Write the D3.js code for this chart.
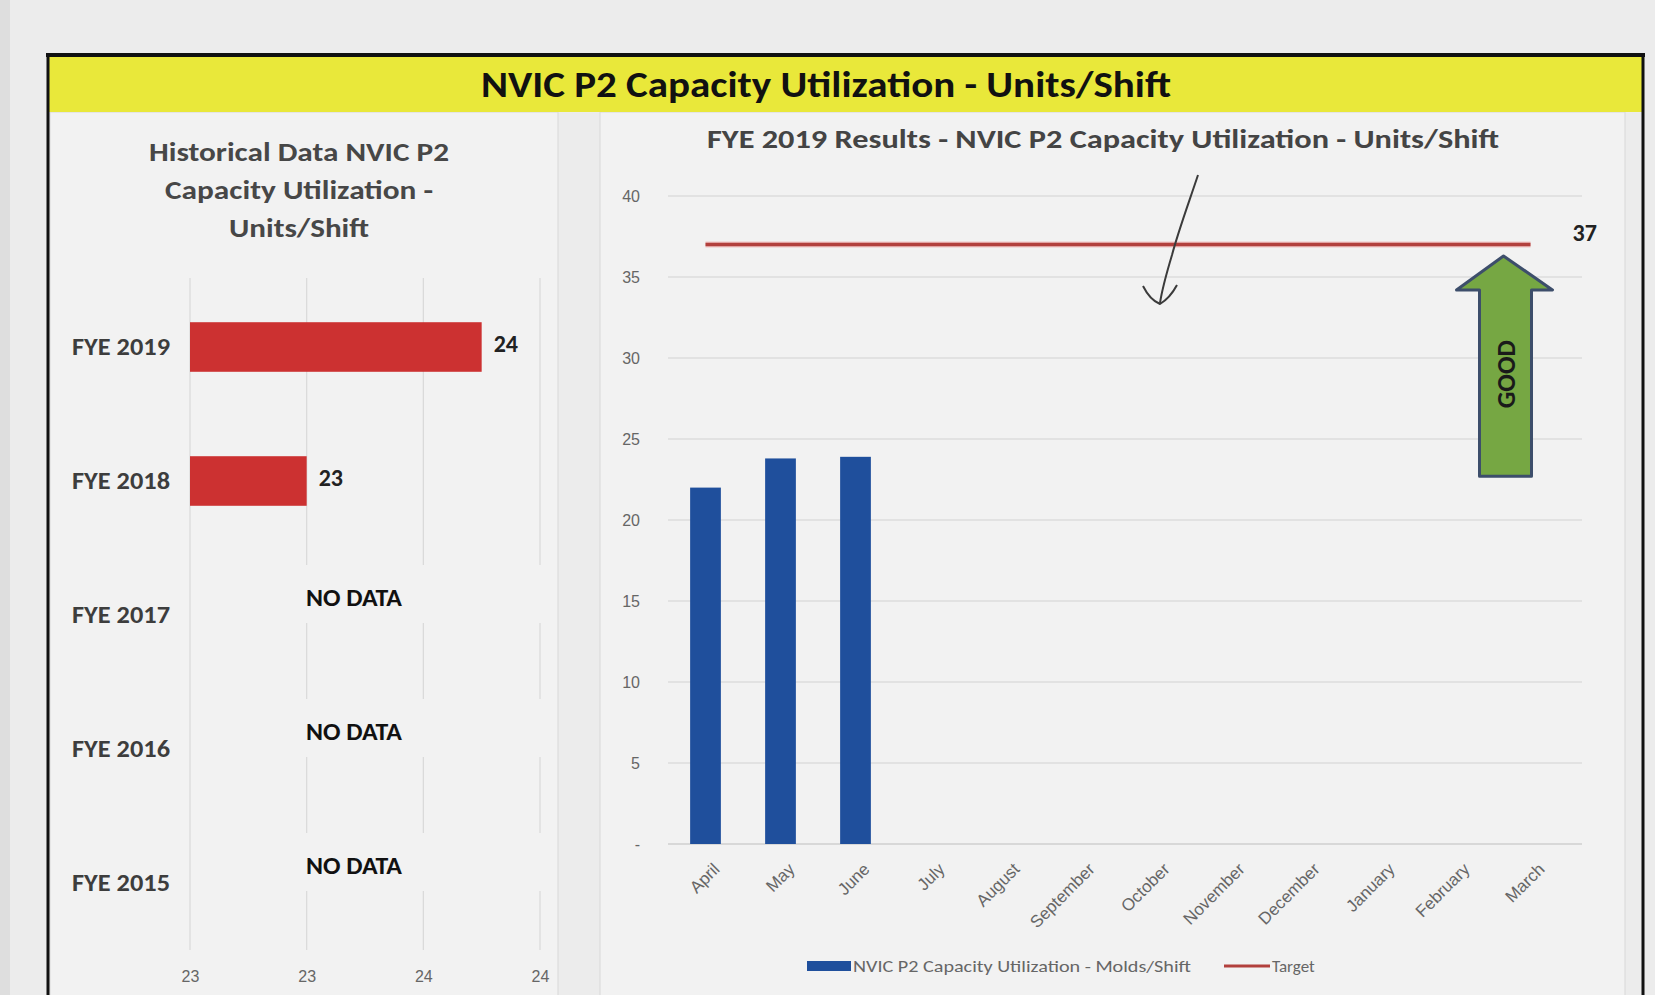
<!DOCTYPE html>
<html lang="en">
<head>
<meta charset="utf-8">
<title>NVIC P2 Capacity Utilization</title>
<script src="https://cdn.jsdelivr.net/npm/d3@7"></script>
<style>
  body { margin: 0; background: #e6e6e6; }
  svg { display: block; font-family: Carlito, Lato, "Open Sans", sans-serif; }
</style>
</head>
<body>
<script>
// historical chart (left)
var years = ["FYE 2019", "FYE 2018", "FYE 2017", "FYE 2016", "FYE 2015"];
var yearValues = [23.75, 23.0, null, null, null];
var histTicks = [22.5, 23, 23.5, 24];

// monthly chart (right)
var months = ["April", "May", "June", "July", "August", "September", "October",
              "November", "December", "January", "February", "March"];
var monthValues = [22.0, 23.8, 23.9, null, null, null, null, null, null, null, null, null];
var targetValue = 37;
var monthTicks = [0, 5, 10, 15, 20, 25, 30, 35, 40];

var W = 1655, H = 995;
var svg = d3.select("body").append("svg").attr("width", W).attr("height", H);

// paper
svg.append("rect").attr("x", 0).attr("y", 0).attr("width", W).attr("height", H).attr("fill", "#dedede");
svg.append("rect").attr("x", 10).attr("y", 0).attr("width", W - 10).attr("height", H).attr("fill", "#ececec");

// panels
svg.append("rect").attr("x", 50).attr("y", 112).attr("width", 508).attr("height", 890)
    .attr("fill", "#f2f2f2").attr("stroke", "#d8d8d8");
svg.append("rect").attr("x", 600).attr("y", 112).attr("width", 1025).attr("height", 890)
    .attr("fill", "#f2f2f2").attr("stroke", "#d8d8d8");

// yellow banner + frame
svg.append("rect").attr("x", 48).attr("y", 56).attr("width", 1595).attr("height", 56).attr("fill", "#e9e83a");
svg.append("line").attr("x1", 46).attr("x2", 1645).attr("y1", 55).attr("y2", 55)
    .attr("stroke", "#111").attr("stroke-width", 4);
svg.append("line").attr("x1", 48).attr("x2", 48).attr("y1", 54).attr("y2", H)
    .attr("stroke", "#111").attr("stroke-width", 3);
svg.append("line").attr("x1", 1643).attr("x2", 1643).attr("y1", 54).attr("y2", H)
    .attr("stroke", "#111").attr("stroke-width", 3);
svg.append("text").attr("x", 826).attr("y", 97).attr("text-anchor", "middle")
    .attr("font-size", 36).attr("font-weight", "bold").attr("fill", "#111")
    .attr("textLength", 690).attr("lengthAdjust", "spacingAndGlyphs")
    .text("NVIC P2 Capacity Utilization - Units/Shift");

// ---------- left chart ----------
var leftTitle = ["Historical Data NVIC P2", "Capacity Utilization -", "Units/Shift"];
var leftTitleW = [300, 268, 140];
svg.selectAll("text.ltitle").data(leftTitle).enter().append("text")
    .attr("class", "ltitle")
    .attr("x", 299).attr("y", function(d, i) { return 161 + i * 38; })
    .attr("text-anchor", "middle").attr("font-size", 26).attr("font-weight", "bold").attr("fill", "#474747")
    .attr("textLength", function(d, i) { return leftTitleW[i]; }).attr("lengthAdjust", "spacingAndGlyphs")
    .text(function(d) { return d; });

var hx = d3.scaleLinear().domain([22.5, 24]).range([190, 540]);
var hy = d3.scaleBand().domain(years).range([280, 950]).paddingInner(0.63).paddingOuter(0.315);

svg.append("g").selectAll("line").data(histTicks).enter().append("line")
    .attr("x1", function(d) { return hx(d); }).attr("x2", function(d) { return hx(d); })
    .attr("y1", 278).attr("y2", 950)
    .attr("stroke", "#d9d9d9").attr("stroke-width", 1.2);

// boxes behind NO DATA labels (they hide the gridlines)
var noData = years.filter(function(d, i) { return yearValues[i] === null; });
svg.append("g").selectAll("rect").data(noData).enter().append("rect")
    .attr("x", hx(22.5) + 8).attr("width", hx(24) - hx(22.5) + 4)
    .attr("y", function(d) { return hy(d) + hy.bandwidth() / 2 - 50; })
    .attr("height", 58).attr("fill", "#f2f2f2");
svg.append("g").selectAll("text").data(noData).enter().append("text")
    .attr("x", 354).attr("y", function(d) { return hy(d) + hy.bandwidth() / 2 - 17; })
    .attr("dy", "0.35em").attr("text-anchor", "middle")
    .attr("font-size", 24).attr("font-weight", "bold").attr("fill", "#111")
    .attr("textLength", 96).attr("lengthAdjust", "spacingAndGlyphs")
    .text("NO DATA");

var hdata = years.map(function(d, i) { return { year: d, value: yearValues[i] }; })
    .filter(function(d) { return d.value !== null; });
svg.append("g").selectAll("rect").data(hdata).enter().append("rect")
    .attr("x", hx(22.5)).attr("y", function(d) { return hy(d.year); })
    .attr("width", function(d) { return hx(d.value) - hx(22.5); })
    .attr("height", hy.bandwidth())
    .attr("fill", "#cc3131");
svg.append("g").selectAll("text").data(hdata).enter().append("text")
    .attr("x", function(d) { return hx(d.value) + 12; })
    .attr("y", function(d) { return hy(d.year) + hy.bandwidth() / 2 - 3; })
    .attr("dy", "0.35em").attr("font-size", 24).attr("font-weight", "bold").attr("fill", "#222")
    .text(function(d) { return Math.round(d.value); });

svg.append("g").selectAll("text").data(years).enter().append("text")
    .attr("x", 170).attr("y", function(d) { return hy(d) + hy.bandwidth() / 2; })
    .attr("dy", "0.35em").attr("text-anchor", "end")
    .attr("font-size", 24).attr("font-weight", "bold").attr("fill", "#3d3d3d")
    .attr("textLength", 98).attr("lengthAdjust", "spacingAndGlyphs")
    .text(function(d) { return d; });

var hAxis = d3.axisBottom(hx).tickValues(histTicks).tickSize(0).tickPadding(0)
    .tickFormat(function(d) { return Math.round(d); });
var hAxisG = svg.append("g").attr("transform", "translate(0,976)").call(hAxis);
hAxisG.select(".domain").remove();
hAxisG.selectAll("text").attr("font-size", 16).attr("fill", "#666").attr("font-family", null).attr("dy", "0.35em");

// ---------- right chart ----------
svg.append("text").attr("x", 1103).attr("y", 148).attr("text-anchor", "middle")
    .attr("font-size", 27).attr("font-weight", "bold").attr("fill", "#444")
    .attr("textLength", 792).attr("lengthAdjust", "spacingAndGlyphs")
    .text("FYE 2019 Results - NVIC P2 Capacity Utilization - Units/Shift");

var x = d3.scaleBand().domain(months).range([668, 1568]).paddingInner(0.59).paddingOuter(0.295);
var y = d3.scaleLinear().domain([0, 40]).range([844, 196]);
var xc = function(m) { return x(m) + x.bandwidth() / 2; };

svg.append("g").selectAll("line").data(monthTicks).enter().append("line")
    .attr("x1", 668).attr("x2", 1582)
    .attr("y1", function(d) { return y(d); }).attr("y2", function(d) { return y(d); })
    .attr("stroke", function(d) { return d === 0 ? "#cfcfcf" : "#dcdcdc"; }).attr("stroke-width", 1.3);

var yAxis = d3.axisLeft(y).tickValues(monthTicks).tickSize(0).tickPadding(0)
    .tickFormat(function(d) { return d === 0 ? "-" : d; });
var yAxisG = svg.append("g").attr("transform", "translate(640,0)").call(yAxis);
yAxisG.select(".domain").remove();
yAxisG.selectAll("text").attr("font-size", 16).attr("fill", "#666").attr("font-family", null);

var mdata = months.map(function(d, i) { return { month: d, value: monthValues[i] }; })
    .filter(function(d) { return d.value !== null; });
svg.append("g").selectAll("rect").data(mdata).enter().append("rect")
    .attr("x", function(d) { return x(d.month); }).attr("y", function(d) { return y(d.value); })
    .attr("width", x.bandwidth()).attr("height", function(d) { return y(0) - y(d.value); })
    .attr("fill", "#1f4f9c");

var xAxis = d3.axisBottom(x).tickSize(0).tickPadding(0);
var xAxisG = svg.append("g").attr("transform", "translate(0," + y(0) + ")").call(xAxis);
xAxisG.select(".domain").remove();
xAxisG.selectAll("text")
    .attr("font-size", 17).attr("fill", "#666").attr("font-family", null)
    .attr("text-anchor", "end").attr("dy", "0.35em")
    .attr("transform", "translate(11,22) rotate(-45)");

// target line
var targetLine = d3.line().x(function(d) { return xc(d); }).y(function() { return y(targetValue); });
svg.append("path").datum([months[0], months[months.length - 1]])
    .attr("d", targetLine).attr("fill", "none")
    .attr("stroke", "#f0c4c4").attr("stroke-width", 6);
svg.append("path").datum([months[0], months[months.length - 1]])
    .attr("d", targetLine).attr("fill", "none")
    .attr("stroke", "#b2403d").attr("stroke-width", 3.5);
svg.append("text").attr("x", xc("March") + 42).attr("y", y(targetValue) - 12)
    .attr("dy", "0.35em").attr("font-size", 24).attr("font-weight", "bold").attr("fill", "#222")
    .text(targetValue);

// hand drawn pen arrow
svg.append("path")
    .attr("d", "M1198,175 C1188,205 1178,232 1172,255 C1166,275 1162,290 1160,303")
    .attr("fill", "none").attr("stroke", "#3b3b3b").attr("stroke-width", 2);
svg.append("path")
    .attr("d", "M1143,286 Q1150,300 1160,304 Q1170,298 1177,285")
    .attr("fill", "none").attr("stroke", "#3b3b3b").attr("stroke-width", 2);

// GOOD block arrow
var ax = xc("March") - 27, tip = y(36.3), headB = y(34.2), bot = y(22.7);
var arrowPts = [[ax, tip], [ax + 49, headB], [ax + 28, headB], [ax + 28, bot],
                [ax - 24, bot], [ax - 24, headB], [ax - 47, headB]];
svg.append("path").attr("d", d3.line()(arrowPts) + "Z")
    .attr("fill", "#76a743").attr("stroke", "#3d4e6b").attr("stroke-width", 3).attr("stroke-linejoin", "round");
svg.append("text").attr("transform", "translate(" + (ax + 2) + "," + y(29) + ") rotate(-90)")
    .attr("text-anchor", "middle").attr("dy", "0.35em")
    .attr("font-size", 26).attr("font-weight", "bold").attr("fill", "#1a1a1a")
    .text("GOOD");

// legend
var legend = svg.append("g").attr("transform", "translate(807,966)");
legend.append("rect").attr("x", 0).attr("y", -5).attr("width", 44).attr("height", 10).attr("fill", "#1f4f9c");
legend.append("text").attr("x", 46).attr("y", 0).attr("dy", "0.35em")
    .attr("font-size", 17).attr("fill", "#666")
    .attr("textLength", 338).attr("lengthAdjust", "spacingAndGlyphs")
    .text("NVIC P2 Capacity Utilization - Molds/Shift");
legend.append("line").attr("x1", 417).attr("x2", 463).attr("y1", 0).attr("y2", 0)
    .attr("stroke", "#b2403d").attr("stroke-width", 3);
legend.append("text").attr("x", 465).attr("y", 0).attr("dy", "0.35em")
    .attr("font-size", 17).attr("fill", "#666")
    .text("Target");
</script>
</body>
</html>
